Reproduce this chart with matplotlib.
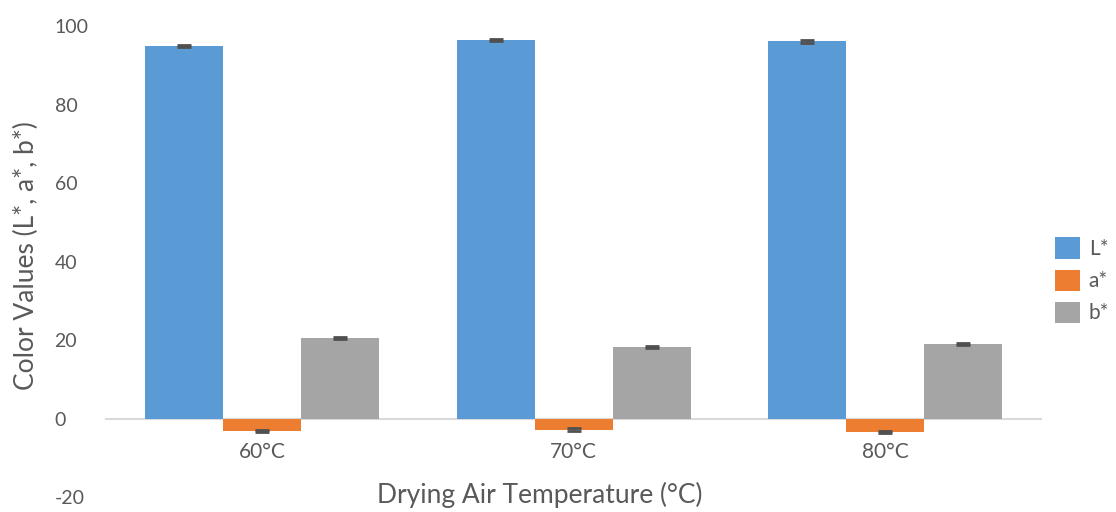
import numpy as np
import matplotlib.pyplot as plt

temps = ['60°C', '70°C', '80°C']
L_vals = [94.9, 96.4, 96.1]
a_vals = [-3.2, -2.8, -3.4]
b_vals = [20.5, 18.2, 19.0]
L_err = [0.3, 0.3, 0.3]
a_err = [0.3, 0.3, 0.3]
b_err = [0.3, 0.3, 0.3]

colors = ['#5B9BD5', '#ED7D31', '#A5A5A5']
txt = '#595959'
plt.rcParams['font.family'] = ['Lato', 'DejaVu Sans']
plt.rcParams['axes.unicode_minus'] = False

fig = plt.figure(figsize=(11.16, 5.12), dpi=100)
ax = fig.add_axes([0.095, 0.029, 0.838, 0.92])

x = np.arange(len(temps))
w = 0.25
series = [('L*', L_vals, L_err), ('a*', a_vals, a_err), ('b*', b_vals, b_err)]
for i, (name, vals, err) in enumerate(series):
    ax.bar(x + (i - 1) * w, vals, w, color=colors[i], label=name, zorder=2)
    ax.errorbar(x + (i - 1) * w, vals, yerr=err, fmt='none', ecolor='#505050',
                elinewidth=1, capsize=5, capthick=2, zorder=3)

ax.set_xlim(-0.5, 2.5)
ax.set_ylim(-20, 100)
ax.set_yticks(range(-20, 101, 20))
for s in ['top', 'right', 'left']:
    ax.spines[s].set_visible(False)
ax.spines['bottom'].set_position(('data', 0))
ax.spines['bottom'].set_color('#D9D9D9')
ax.spines['bottom'].set_linewidth(1.5)
ax.spines['bottom'].set_zorder(1)
ax.set_xticks(x)
ax.set_xticklabels(temps)
ax.tick_params(axis='x', length=0, pad=17, labelsize=15, labelcolor=txt)
ax.tick_params(axis='y', length=0, pad=37, labelsize=14, labelcolor=txt)
for lab in ax.get_yticklabels():
    lab.set_ha('left')

fig.text(0.484, 0.033, 'Drying Air Temperature (°C)', ha='center', va='center',
         fontsize=19, color=txt)
fig.text(0.024, 0.50, 'Color Values (L*, a*, b*)', ha='center', va='center',
         rotation=90, fontsize=19, color=txt)

ax.legend(loc='center left', bbox_to_anchor=(0.995, 0.46), frameon=False,
          fontsize=15, labelcolor=txt, handlelength=1.2, handleheight=1.2,
          handletextpad=0.4, labelspacing=0.5)

fig.savefig('out.png', dpi=100)
